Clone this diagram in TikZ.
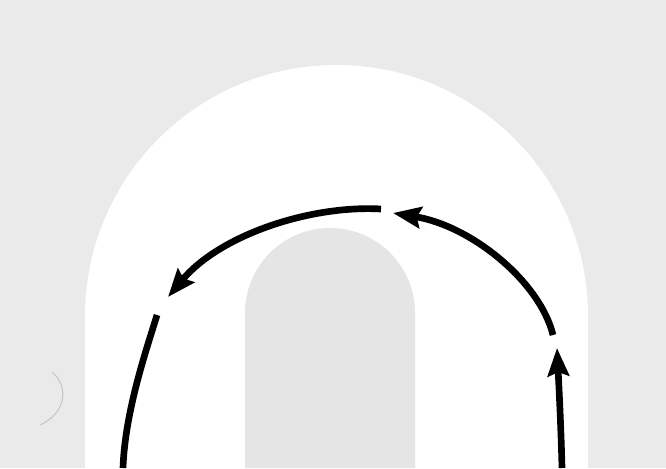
\documentclass[tikz,border=0pt]{standalone}
\usetikzlibrary{arrows.meta}
\definecolor{paper}{RGB}{234,234,234}
\definecolor{hole}{RGB}{229,229,229}

\begin{document}
\begin{tikzpicture}[x=0.75pt,y=0.75pt,
    flow/.style={line width=5pt,-{Stealth[length=21pt,width=16pt,inset=3pt]}},
    bare/.style={line width=5pt}]
            \useasboundingbox (0,0) rectangle (666,468);
            \fill[paper] (0,0) rectangle (666,468);
            % white band and the grey hole
            \fill[white] (85,0) -- (85,151.5) arc[start angle=180,end angle=0,radius=251.5] -- (588,0) -- cycle;
            \fill[hole] (245,0) -- (245,155) arc[start angle=180,end angle=0,radius=85] -- (415,0) -- cycle;
            \draw[gray!45,line width=0.8pt] (52,96) .. controls (68,83) and (68,56) .. (40,43);
            \coordinate (a0) at (562,0);
            \coordinate (a1) at (557,120);
            \coordinate (b0) at (553,133);
            \coordinate (b1) at (393,255);
            \coordinate (c0) at (381,259);
            \coordinate (c1) at (168,171);
            \coordinate (d0) at (157,153);
            \coordinate (d1) at (123,0);
            \draw[flow] (a0) .. controls (561,40) and (559,80) .. (a1);
            \draw[flow] (b0) .. controls (540,186) and (472,242) .. (b1);
            \draw[flow] (c0) .. controls (310,263) and (220,233) .. (c1);
            \draw[bare] (d0) .. controls (148,123) and (125,58) .. (d1);
        \end{tikzpicture}
\end{document}
